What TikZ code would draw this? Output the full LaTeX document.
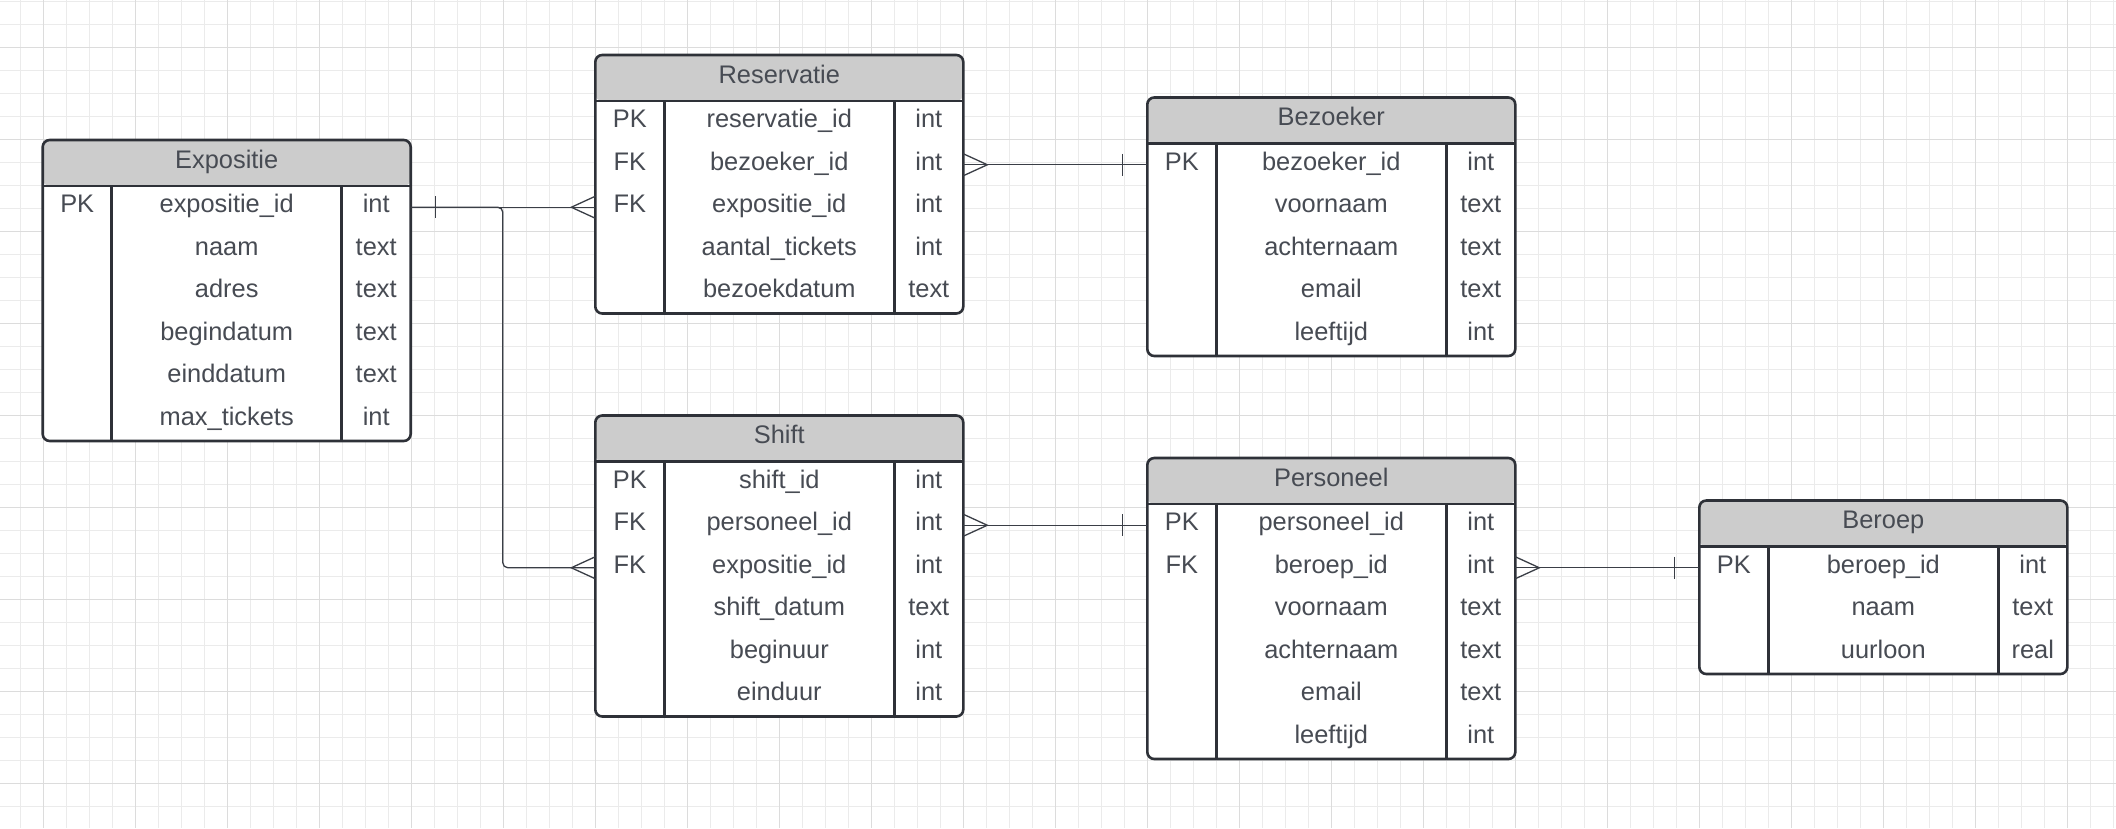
\documentclass[tikz,border=0pt]{standalone}
\usepackage{fontspec}
\setmainfont{Liberation Sans}
\definecolor{gridminor}{HTML}{EBEBEB}
\definecolor{gridmajor}{HTML}{DCDCDC}
\definecolor{bordercol}{HTML}{2E3138}
\definecolor{headfill}{HTML}{CCCCCC}
\definecolor{txt}{HTML}{474B53}
\definecolor{linecol}{HTML}{3A3E46}
\tikzset{
  gridminorline/.style={draw=gridminor, line width=1.2pt},
  gridmajorline/.style={draw=gridmajor, line width=1.4pt},
  tablebox/.style={draw=bordercol, line width=2.6pt, fill=white, rounded corners=7pt,
    minimum width=368pt, inner sep=0pt, outer sep=0pt, anchor=north west,
    path picture={\fill[headfill] (path picture bounding box.north west) rectangle ([yshift=-46pt]path picture bounding box.north east);}},
  divider/.style={draw=bordercol, line width=2.6pt},
  celltext/.style={text=txt, inner sep=0pt, anchor=base, font=\fontsize{25.4}{30}\selectfont},
  conn/.style={draw=linecol, line width=1.3pt},
}
% name, x, y, nrows, title, rows
\newcommand\ertable[6]{%
  \node[tablebox, minimum height={46+42.5*#4}] (#1) at (#2,#3) {};
  \draw[divider] ({#2},{#3+46}) -- ({#2+368},{#3+46});
  \draw[divider] ({#2+69},{#3+46}) -- ({#2+69},{#3+46+42.5*#4});
  \draw[divider] ({#2+299},{#3+46}) -- ({#2+299},{#3+46+42.5*#4});
  \node[celltext] (#1-title) at ({#2+184},{#3+28}) {#5};
  \foreach \ky/\nm/\ty [count=\i] in {#6} {
    \node[celltext] (#1-k\i) at ({#2+34.5},{#3+46+42.5*(\i-0.5)+5.5}) {\ky};
    \node[celltext] (#1-n\i) at ({#2+184},{#3+46+42.5*(\i-0.5)+5.5}) {\nm};
    \node[celltext] (#1-t\i) at ({#2+333.5},{#3+46+42.5*(\i-0.5)+5.5}) {\ty};
    \coordinate (#1-L\i) at ({#2},{#3+46+42.5*(\i-0.5)});
    \coordinate (#1-R\i) at ({#2+368},{#3+46+42.5*(\i-0.5)});
  }
}
\begin{document}
\begin{tikzpicture}[x=1pt,y=-1pt]
\useasboundingbox (0,0) rectangle (2116,828);
\fill[white] (0,0) rectangle (2116,828);
% grid
\foreach \k in {0,...,91} \draw[gridminorline] ({20.7+23*\k},0) -- ({20.7+23*\k},828);
\foreach \k in {0,...,35} \draw[gridminorline] (0,{1.3+23*\k}) -- (2116,{1.3+23*\k});
\foreach \k in {0,...,22} \draw[gridmajorline] ({43.3+92*\k},0) -- ({43.3+92*\k},828);
\foreach \k in {0,...,8} \draw[gridmajorline] (0,{47.3+92*\k}) -- (2116,{47.3+92*\k});

% tables
\ertable{expo}{42.7}{140}{6}{Expositie}{PK/expositie\_id/int, {}/naam/text, {}/adres/text, {}/begindatum/text, {}/einddatum/text, {}/max\_tickets/int}
\ertable{resv}{595.3}{55}{5}{Reservatie}{PK/reservatie\_id/int, FK/bezoeker\_id/int, FK/expositie\_id/int, {}/aantal\_tickets/int, {}/bezoekdatum/text}
\ertable{bezo}{1147.3}{97.5}{5}{Bezoeker}{PK/bezoeker\_id/int, {}/voornaam/text, {}/achternaam/text, {}/email/text, {}/leeftijd/int}
\ertable{shft}{595.3}{415.5}{6}{Shift}{PK/shift\_id/int, FK/personeel\_id/int, FK/expositie\_id/int, {}/shift\_datum/text, {}/beginuur/int, {}/einduur/int}
\ertable{pers}{1147.3}{458}{6}{Personeel}{PK/personeel\_id/int, FK/beroep\_id/int, {}/voornaam/text, {}/achternaam/text, {}/email/text, {}/leeftijd/int}
\ertable{bero}{1699.3}{500.5}{3}{Beroep}{PK/beroep\_id/int, {}/naam/text, {}/uurloon/real}

% Expositie -> Reservatie
\draw[conn] (expo-R1) -- (resv-L3);
\draw[conn] ([xshift=24.5pt,yshift=11pt]expo-R1) -- ([xshift=24.5pt,yshift=-11pt]expo-R1);
\draw[conn] ([yshift=11pt]resv-L3) -- ([xshift=-24pt]resv-L3) -- ([yshift=-11pt]resv-L3);
% Expositie -> Shift
\draw[conn, rounded corners=5pt] (expo-R1) -| ([xshift=-92.5pt]shft-L3) -- (shft-L3);
\draw[conn] ([yshift=11pt]shft-L3) -- ([xshift=-24pt]shft-L3) -- ([yshift=-11pt]shft-L3);
% Reservatie -> Bezoeker
\draw[conn] (resv-R2) -- (bezo-L1);
\draw[conn] ([yshift=11pt]resv-R2) -- ([xshift=24pt]resv-R2) -- ([yshift=-11pt]resv-R2);
\draw[conn] ([xshift=-24.5pt,yshift=11pt]bezo-L1) -- ([xshift=-24.5pt,yshift=-11pt]bezo-L1);
% Shift -> Personeel
\draw[conn] (shft-R2) -- (pers-L1);
\draw[conn] ([yshift=11pt]shft-R2) -- ([xshift=24pt]shft-R2) -- ([yshift=-11pt]shft-R2);
\draw[conn] ([xshift=-24.5pt,yshift=11pt]pers-L1) -- ([xshift=-24.5pt,yshift=-11pt]pers-L1);
% Personeel -> Beroep
\draw[conn] (pers-R2) -- (bero-L1);
\draw[conn] ([yshift=11pt]pers-R2) -- ([xshift=24pt]pers-R2) -- ([yshift=-11pt]pers-R2);
\draw[conn] ([xshift=-24.5pt,yshift=11pt]bero-L1) -- ([xshift=-24.5pt,yshift=-11pt]bero-L1);
\end{tikzpicture}
\end{document}
